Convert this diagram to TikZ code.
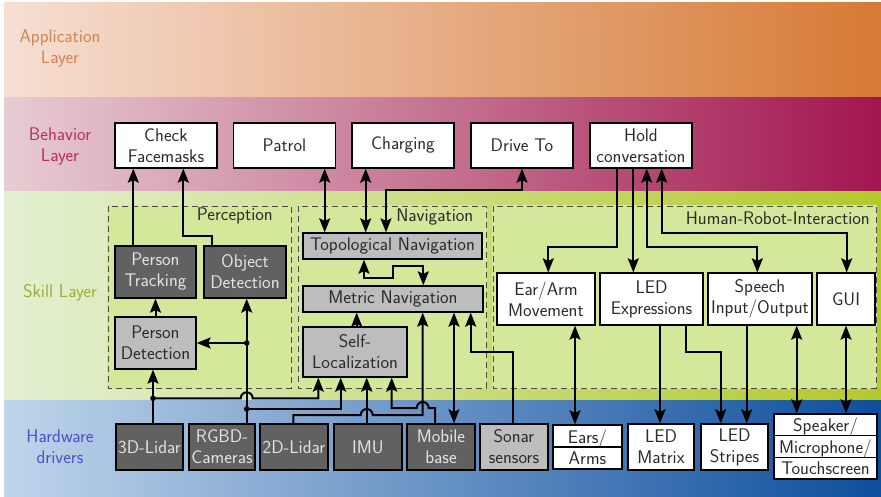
\documentclass[tikz,border=0pt]{standalone}
\usepackage{fontspec}
\usetikzlibrary{arrows.meta}
\definecolor{appL}{HTML}{F6DFD3}
\definecolor{appR}{HTML}{D67A34}
\definecolor{behL}{HTML}{E7CCD4}
\definecolor{behR}{HTML}{A2164F}
\definecolor{sklL}{HTML}{E3F0D3}
\definecolor{sklR}{HTML}{B4C92B}
\definecolor{hwL}{HTML}{BFD5EB}
\definecolor{hwR}{HTML}{0D4E9D}
\definecolor{appT}{HTML}{CE8450}
\definecolor{behT}{HTML}{B3305F}
\definecolor{sklT}{HTML}{9CAE35}
\definecolor{hwT}{HTML}{4B4FC6}
\definecolor{grpfill}{HTML}{D4E89B}
\definecolor{grpdash}{HTML}{4A4A4A}
\definecolor{boxdark}{HTML}{616161}
\definecolor{boxdarktext}{HTML}{E4E4E4}
\definecolor{boxlight}{HTML}{BDBDBD}
\definecolor{txtdark}{HTML}{2A2A2A}
\begin{document}
\begin{tikzpicture}[x=1pt,y=-1pt,
  >={Stealth[length=14pt,width=11pt,inset=2.5pt]},
  every node/.style={font=\sffamily\fontsize{18.3}{21}\selectfont},
  box/.style={draw=black,line width=1.3pt,inner sep=0pt,align=center},
  wbox/.style={box,fill=white,text=txtdark},
  dbox/.style={box,fill=boxdark,text=boxdarktext},
  lbox/.style={box,fill=boxlight,text=txtdark},
  conn/.style={line width=2pt,draw=black},
  grpline/.style={draw=grpdash,line width=1pt,dash pattern=on 6pt off 4pt},
  lay/.style={align=center,inner sep=0pt},
  glabel/.style={anchor=east,inner sep=0pt,text=txtdark},
  dot/.style={fill=black}
]
\useasboundingbox (0,0) rectangle (881,496);
% layer bands
\shade[left color=appL,right color=appR] (4,2) rectangle (881,97);
\shade[left color=behL,right color=behR] (4,97) rectangle (881,191);
\shade[left color=sklL,right color=sklR] (4,191) rectangle (881,400);
\shade[left color=hwL,right color=hwR] (4,400) rectangle (881,496);
% layer labels
\node[lay,text=appT] (LA) at (60,48.5) {Application\\Layer};
\node[lay,text=behT] (LB) at (60,147) {Behavior\\Layer};
\node[lay,text=sklT] (LS) at (60,293) {Skill Layer};
\node[lay,text=hwT] (LH) at (60,446.5) {Hardware\\drivers};
% groups
\fill[grpfill] (107,205) rectangle (292,389);
\fill[grpfill] (297,205) rectangle (487,389);
\fill[grpfill] (492,205) rectangle (877,389);
\draw[grpline] (108,206) rectangle (291,388);
\draw[grpline] (298,206) rectangle (486,388);
\draw[grpline] (493,206) rectangle (876,388);
\node[glabel] (GP) at (273,216) {Perception};
\node[glabel] (GN) at (473.5,217) {Navigation};
\node[glabel] (GH) at (870,218) {Human-Robot-Interaction};
% behavior
\node[wbox,minimum width=102pt,minimum height=45pt] (CF) at (166,145.5) {Check\\Facemasks};
\node[wbox,minimum width=102pt,minimum height=45pt] (Pa) at (284.5,145.5) {Patrol};
\node[wbox,minimum width=102pt,minimum height=45pt] (Ch) at (403,145.5) {Charging};
\node[wbox,minimum width=102pt,minimum height=45pt] (DT) at (522,145.5) {Drive To};
\node[wbox,minimum width=102pt,minimum height=45pt] (HC) at (641,145.5) {Hold\\conversation};
% perception
\node[dbox,minimum width=81pt,minimum height=52pt] (PT) at (155.5,272) {Person\\Tracking};
\node[dbox,minimum width=82pt,minimum height=52pt] (OD) at (245,272) {Object\\Detection};
\node[lbox,minimum width=81pt,minimum height=52pt] (PD) at (155.5,343) {Person\\Detection};
% navigation
\node[lbox,minimum width=179pt,minimum height=26pt] (TN) at (392.5,246) {Topological Navigation};
\node[lbox,minimum width=180pt,minimum height=26pt] (MN) at (393,299) {Metric Navigation};
\node[lbox,minimum width=104pt,minimum height=50pt] (SL) at (355,352) {Self-\\Localization};
% HRI
\node[wbox,minimum width=98pt,minimum height=52pt] (EA) at (546,299) {Ear/Arm\\Movement};
\node[wbox,minimum width=103pt,minimum height=52pt] (LE) at (651.5,299) {LED\\Expressions};
\node[wbox,minimum width=104pt,minimum height=52pt] (SIO) at (760,299) {Speech\\Input/Output};
\node[wbox,minimum width=58pt,minimum height=52pt] (GUI) at (846,299) {GUI};
% hardware
\node[dbox,minimum width=67pt,minimum height=46pt] (L3) at (149.5,447) {3D-Lidar};
\node[dbox,minimum width=66pt,minimum height=46pt] (RG) at (222,447) {RGBD-\\Cameras};
\node[dbox,minimum width=68pt,minimum height=46pt] (L2) at (294,447) {2D-Lidar};
\node[dbox,minimum width=68pt,minimum height=46pt] (IMU) at (368,447) {IMU};
\node[dbox,minimum width=68pt,minimum height=46pt] (MB) at (441,447) {Mobile\\base};
\node[lbox,minimum width=68pt,minimum height=46pt] (SON) at (514,447) {Sonar\\sensors};
\node[wbox,minimum width=69pt,minimum height=44pt] (EARS) at (587.5,447) {Ears/\\Arms};
\draw[line width=1.2pt] (EARS.west) -- (EARS.east);
\node[wbox,minimum width=66pt,minimum height=46pt] (LM) at (661,447) {LED\\Matrix};
\node[wbox,minimum width=67pt,minimum height=46pt] (LS) at (734.5,447) {LED\\Stripes};
\node[wbox,minimum width=103pt,minimum height=65pt,font=\sffamily\fontsize{18.3}{21.6}\selectfont] (SPK) at (825.5,446.5) {Speaker/\\Microphone/\\Touchscreen};
\draw[line width=1.2pt] ([yshift=10.8pt]SPK.west) -- ([yshift=10.8pt]SPK.east);
\draw[line width=1.2pt] ([yshift=-10.8pt]SPK.west) -- ([yshift=-10.8pt]SPK.east);
% column coordinates
\coordinate (xPTCF) at (133.3,0);
\coordinate (xODa) at (211.7,0);
\coordinate (xODb) at (183.3,0);
\coordinate (xL3) at (153,0);
\coordinate (xRG) at (246.7,0);
\coordinate (xPa) at (324.7,0);
\coordinate (xCh) at (365.7,0);
\coordinate (xDTa) at (386,0);
\coordinate (xTMa) at (364,0);
\coordinate (xTMb) at (423.3,0);
\coordinate (xSLMN) at (356.7,0);
\coordinate (xSL1) at (318.3,0);
\coordinate (xSL2) at (340.7,0);
\coordinate (xSL3) at (366.7,0);
\coordinate (xSL4) at (391.7,0);
\coordinate (xL2a) at (293.3,0);
\coordinate (xL2b) at (422.7,0);
\coordinate (xMBa) at (435,0);
\coordinate (xMBb) at (454,0);
\coordinate (xSOa) at (513.3,0);
\coordinate (xSOb) at (470.7,0);
\coordinate (xH1) at (617.3,0);
\coordinate (xEA) at (548.3,0);
\coordinate (xH2) at (633.3,0);
\coordinate (xH3) at (646.7,0);
\coordinate (xSIO) at (757.3,0);
\coordinate (xH4) at (661.7,0);
\coordinate (xGUI) at (846.7,0);
\coordinate (xEars) at (575,0);
\coordinate (xLM) at (660,0);
\coordinate (xLS1) at (685.7,0);
\coordinate (xLS2) at (720.7,0);
\coordinate (xLS3) at (746.7,0);
\coordinate (xSp1) at (796.7,0);
\coordinate (xSp2) at (846,0);
\coordinate (dA) at (153,398.3);
\coordinate (dB) at (246.7,409);
\coordinate (dC) at (246.7,343);
% perception connectors
\draw[conn,->] (PT.north -| xPTCF) -- (CF.south -| xPTCF);
\draw[conn,->] (OD.north -| xODa) -- (211.7,235.7) -- (183.3,235.7) -- (CF.south -| xODb);
\draw[conn,->] (PD.north) -- (PT.south);
\draw[conn,->] (L3.north -| xL3) -- (PD.south -| xL3);
\draw[conn,->] (RG.north -| xRG) -- (OD.south -| xRG);
\draw[conn,->] (dC) -- (dC -| PD.east);
% navigation connectors
\draw[conn,->] (dA) -- (240.7,398.3) arc[start angle=180,end angle=360,radius=6] -- (318.3,398.3) -- (SL.south -| xSL1);
\draw[conn,->] (dB) -- (340.7,409) -- (SL.south -| xSL2);
\draw[conn,->] (IMU.north -| xSL3) -- (SL.south -| xSL3);
\draw[conn,->] (MB.north -| xMBa) -- (435,408) -- (428.7,408) arc[start angle=0,end angle=-180,radius=6] -- (391.7,408) -- (SL.south -| xSL4);
\draw[conn,->] (L2.north -| xL2a) -- (293.3,415) -- (360.7,415) arc[start angle=180,end angle=360,radius=6] -- (422.7,415) -- (MN.south -| xL2b);
\draw[conn,<->] (MB.north -| xMBb) -- (MN.south -| xMBb);
\draw[conn,->] (SON.north -| xSOa) -- (513.3,351.7) -- (470.7,351.7) -- (MN.south -| xSOb);
\draw[conn,->] (SL.north -| xSLMN) -- (MN.south -| xSLMN);
\draw[conn,<->] (TN.south -| xTMa) -- (364,278.3) -- (393.3,278.3) -- (393.3,266) -- (423.3,266) -- (MN.north -| xTMb);
\draw[conn,<->] (Pa.south -| xPa) -- (TN.north -| xPa);
\draw[conn,<->] (Ch.south -| xCh) -- (TN.north -| xCh);
\draw[conn,<->] (DT.south) -- (522,190) -- (386,190) -- (TN.north -| xDTa);
% HRI connectors
\draw[conn,->] (HC.south -| xH1) -- (617.3,246.7) -- (548.3,246.7) -- (EA.north -| xEA);
\draw[conn,->] (HC.south -| xH2) -- (LE.north -| xH2);
\draw[conn,<->] (HC.south -| xH3) -- (646.7,247.3) -- (757.3,247.3) -- (SIO.north -| xSIO);
\draw[conn,<->] (HC.south -| xH4) -- (661.7,233.3) -- (846.7,233.3) -- (GUI.north -| xGUI);
\draw[conn,<->] (EA.south -| xEars) -- (EARS.north -| xEars);
\draw[conn,->] (LE.south -| xLM) -- (LM.north -| xLM);
\draw[conn,->] (LE.south -| xLS1) -- (685.7,351.7) -- (720.7,351.7) -- (LS.north -| xLS2);
\draw[conn,->] (SIO.south -| xLS3) -- (LS.north -| xLS3);
\draw[conn,<->] (SIO.south -| xSp1) -- (SPK.north -| xSp1);
\draw[conn,<->] (GUI.south -| xSp2) -- (SPK.north -| xSp2);
% junction dots
\fill[dot] (dA) circle[radius=2.8];
\fill[dot] (dB) circle[radius=2.8];
\fill[dot] (dC) circle[radius=2.8];
\end{tikzpicture}
\end{document}
